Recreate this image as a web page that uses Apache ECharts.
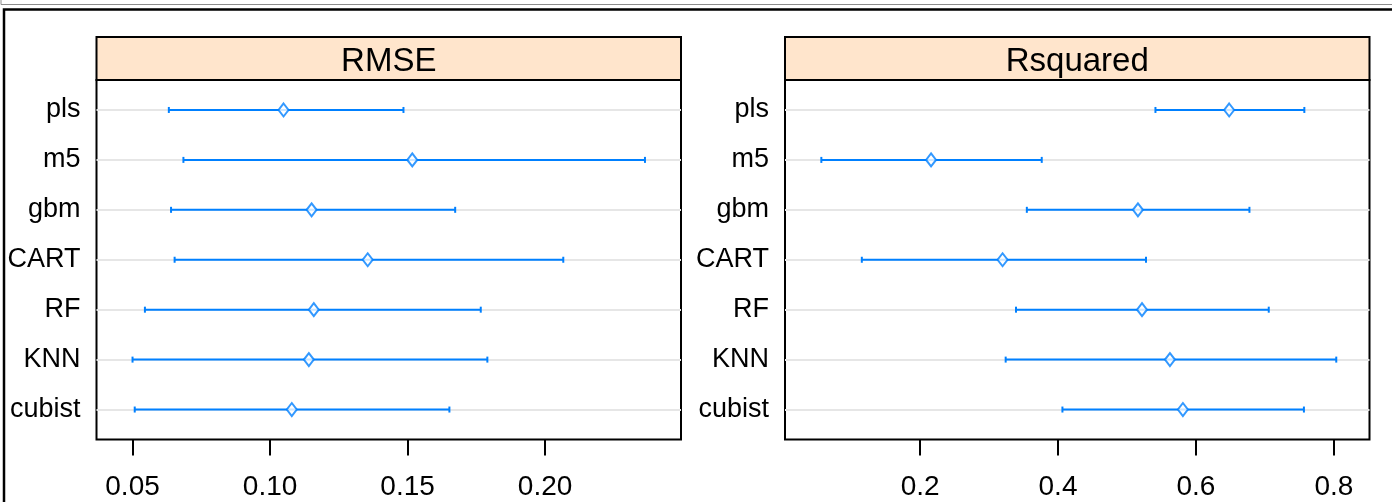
<!DOCTYPE html>
<html>
<head>
<meta charset="utf-8">
<script src="https://cdn.jsdelivr.net/npm/echarts@6/dist/echarts.min.js"></script>
<style>
  html, body { margin: 0; padding: 0; background: #fff; }
  #chart { width: 1392px; height: 502px; }
</style>
</head>
<body>
<div id="chart"></div>
<script>
// models, listed top to bottom as in the dotplot
var models = ["pls", "m5", "gbm", "CART", "RF", "KNN", "cubist"];

// RMSE: estimate with lower / upper confidence limits
var rmseMid = [0.1049, 0.1517, 0.1151, 0.1355, 0.1159, 0.1141, 0.1079];
var rmseLow = [0.0632, 0.0685, 0.0640, 0.0653, 0.0545, 0.0500, 0.0508];
var rmseHigh = [0.1485, 0.2363, 0.1673, 0.2066, 0.1766, 0.1790, 0.1652];

// Rsquared
var rsqMid = [0.6482, 0.2159, 0.5159, 0.3196, 0.5218, 0.5623, 0.5811];
var rsqLow = [0.5413, 0.0568, 0.3548, 0.1155, 0.3391, 0.3241, 0.4064];
var rsqHigh = [0.7572, 0.3764, 0.6776, 0.5276, 0.7056, 0.8035, 0.7566];

var rmseTicks = [0.05, 0.10, 0.15, 0.20];
var rsqTicks = [0.2, 0.4, 0.6, 0.8];

var BLUE = "#0080ff";
var FONT = "Liberation Sans, Arial, sans-serif";

// row position: bottom model = 1
function rowOf(i) {
  return models.length - i;
}
var rowValues = models.map(function (m, i) {
  return rowOf(i);
});

function barData(low, high) {
  return models.map(function (m, i) {
    return [low[i], high[i], rowOf(i)];
  });
}
function pointData(mid) {
  return models.map(function (m, i) {
    return [mid[i], rowOf(i)];
  });
}

function renderBar(params, api) {
  var a = api.coord([api.value(0), api.value(2)]);
  var b = api.coord([api.value(1), api.value(2)]);
  var st = { stroke: BLUE, lineWidth: 2 };
  return {
    type: "group",
    children: [
      { type: "line", shape: { x1: a[0], y1: a[1], x2: b[0], y2: b[1] }, style: st },
      { type: "line", shape: { x1: a[0], y1: a[1] - 3, x2: a[0], y2: a[1] + 3 }, style: st },
      { type: "line", shape: { x1: b[0], y1: b[1] - 3, x2: b[0], y2: b[1] + 3 }, style: st },
    ],
  };
}

function xAxisFor(idx, min, max, ticks, digits) {
  return {
    type: "value",
    gridIndex: idx,
    min: min,
    max: max,
    splitLine: { show: false },
    axisLine: { show: false },
    axisTick: {
      show: true,
      customValues: ticks,
      length: 16,
      lineStyle: { color: "#000", width: 2 },
    },
    axisLabel: {
      customValues: ticks,
      margin: 34,
      fontFamily: FONT,
      fontSize: 28,
      color: "#000",
      formatter: function (v) {
        return v.toFixed(digits);
      },
    },
  };
}

function yAxisFor(idx) {
  return {
    type: "value",
    gridIndex: idx,
    min: 0.4,
    max: 7.6,
    splitLine: { show: false },
    axisLine: { show: false },
    axisTick: { show: false },
    axisLabel: {
      customValues: rowValues,
      margin: 16,
      fontFamily: FONT,
      fontSize: 27,
      color: "#000",
      formatter: function (v) {
        return models[models.length - Math.round(v)];
      },
    },
  };
}

function panelSeries(idx, low, high, mid) {
  return [
    {
      type: "line",
      xAxisIndex: idx,
      yAxisIndex: idx,
      data: [],
      z: 1,
      markLine: {
        z: 1,
        silent: true,
        symbol: "none",
        label: { show: false },
        lineStyle: { color: "#e6e6e6", width: 2, type: "solid" },
        data: rowValues.map(function (v) {
          return { yAxis: v };
        }),
      },
    },
    {
      type: "custom",
      xAxisIndex: idx,
      yAxisIndex: idx,
      z: 3,
      renderItem: renderBar,
      encode: { x: [0, 1], y: 2 },
      data: barData(low, high),
    },
    {
      type: "scatter",
      xAxisIndex: idx,
      yAxisIndex: idx,
      z: 4,
      symbol: "diamond",
      symbolSize: [10, 13],
      itemStyle: { color: "#fff", borderColor: BLUE, borderWidth: 2 },
      data: pointData(mid),
    },
  ];
}

function strip(x, w, text) {
  return {
    type: "group",
    children: [
      {
        type: "rect",
        shape: { x: x, y: 37, width: w, height: 43 },
        style: { fill: "#ffe5cc", stroke: "#000", lineWidth: 2 },
      },
      {
        type: "text",
        x: x + w / 2,
        y: 62,
        style: {
          text: text,
          fontFamily: FONT,
          fontSize: 33,
          fill: "#000",
          align: "center",
          verticalAlign: "middle",
        },
      },
    ],
  };
}

var chart = echarts.init(document.getElementById("chart"), null, { renderer: "canvas" });

var option = {
  animation: false,
  backgroundColor: "#fff",
  grid: [
    { left: 96.5, right: 711, top: 80, bottom: 62.5, show: true, borderColor: "#000", borderWidth: 2, backgroundColor: "transparent" },
    { left: 785, right: 22.5, top: 80, bottom: 62.5, show: true, borderColor: "#000", borderWidth: 2, backgroundColor: "transparent" },
  ],
  xAxis: [
    xAxisFor(0, 0.0369, 0.2494, rmseTicks, 2),
    xAxisFor(1, 0.0041, 0.8517, rsqTicks, 1),
  ],
  yAxis: [yAxisFor(0), yAxisFor(1)],
  graphic: [
    {
      type: "rect",
      shape: { x: 1, y: -10, width: 1400, height: 14.5 },
      style: { fill: "none", stroke: "#8c8c8c", lineWidth: 1 },
    },
    {
      type: "rect",
      shape: { x: 4, y: 9.5, width: 1400, height: 600 },
      style: { fill: "none", stroke: "#000", lineWidth: 2.5 },
    },
    strip(96.5, 584.5, "RMSE"),
    strip(785, 584.5, "Rsquared"),
  ],
  series: panelSeries(0, rmseLow, rmseHigh, rmseMid).concat(
    panelSeries(1, rsqLow, rsqHigh, rsqMid)
  ),
};

chart.setOption(option);
</script>
</body>
</html>
